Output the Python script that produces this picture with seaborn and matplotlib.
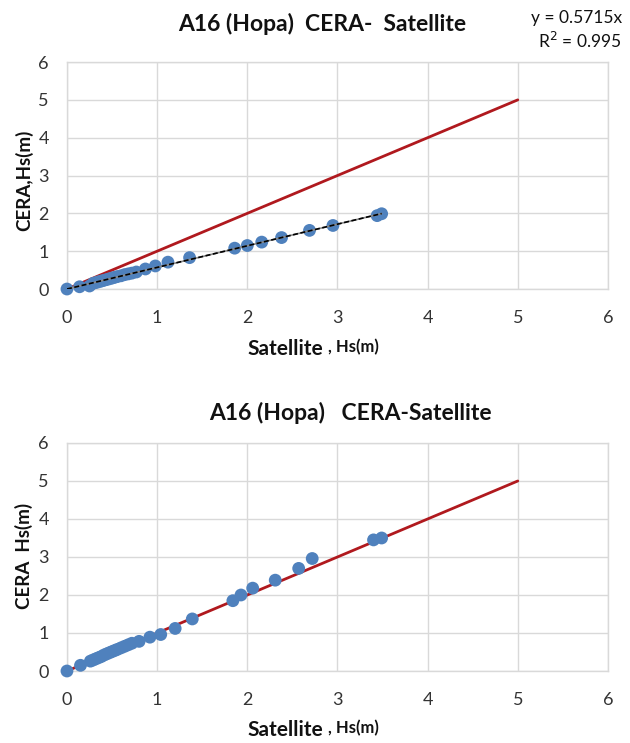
import matplotlib
matplotlib.use("Agg")
import matplotlib.pyplot as plt
import seaborn as sns
import numpy as np
import pandas as pd

# Station A16 (Hopa): significant wave height, CERA hindcast vs satellite
sat_raw = [0.00, 0.14, 0.25, 0.29, 0.32, 0.35, 0.38, 0.41, 0.44, 0.47, 0.50,
           0.53, 0.56, 0.60, 0.64, 0.68, 0.72, 0.77, 0.87, 0.98, 1.12, 1.36,
           1.86, 2.00, 2.16, 2.38, 2.69, 2.95, 3.44, 3.49]
cera_raw = [0.00, 0.06, 0.08, 0.15, 0.17, 0.19, 0.21, 0.23, 0.25, 0.27, 0.29,
            0.31, 0.33, 0.35, 0.38, 0.40, 0.42, 0.45, 0.53, 0.61, 0.71, 0.83,
            1.08, 1.15, 1.24, 1.36, 1.55, 1.68, 1.94, 1.99]

# After correction
sat_corr = [0.00, 0.15, 0.26, 0.29, 0.32, 0.35, 0.38, 0.41, 0.44, 0.47, 0.50,
            0.53, 0.56, 0.60, 0.64, 0.68, 0.72, 0.80, 0.92, 1.04, 1.20, 1.39,
            1.84, 1.93, 2.06, 2.31, 2.57, 2.72, 3.40, 3.49]
cera_corr = [0.00, 0.15, 0.26, 0.29, 0.32, 0.35, 0.38, 0.42, 0.45, 0.48, 0.51,
             0.54, 0.57, 0.61, 0.65, 0.69, 0.73, 0.78, 0.89, 0.96, 1.12, 1.37,
             1.85, 2.00, 2.18, 2.39, 2.70, 2.96, 3.45, 3.50]

fit_slope = 0.5715
fit_r2 = 0.995
ref_line = [0, 5]
ticks = [0, 1, 2, 3, 4, 5, 6]

sns.set_theme(style="whitegrid")
plt.rcParams["font.family"] = ["Lato", "DejaVu Sans"]

BLUE = "#4F81BD"
RED = "#B0191E"
GRID = "#D9D9D9"
TXT = "#333333"
DARK = "#111111"

fig = plt.figure(figsize=(6.3, 7.43), dpi=100)
ax1 = fig.add_axes([0.1063, 0.6110, 0.8587, 0.3055])
ax2 = fig.add_axes([0.1063, 0.0969, 0.8587, 0.3069])


def style(ax):
    ax.set_xlim(0, 6)
    ax.set_ylim(0, 6)
    ax.set_xticks(ticks)
    ax.set_yticks(ticks)
    ax.grid(True, color=GRID, linewidth=1.0)
    ax.tick_params(axis="both", length=0, labelsize=13, labelcolor=TXT)
    ax.tick_params(axis="x", pad=15)
    ax.tick_params(axis="y", pad=13)
    for s in ax.spines.values():
        s.set_color(GRID)
        s.set_linewidth(1.0)
    ax.set_xlabel("")
    ax.set_ylabel("")


# Upper panel: raw comparison
df1 = pd.DataFrame({"sat": sat_raw, "cera": cera_raw})
sns.lineplot(x=ref_line, y=ref_line, ax=ax1, color=RED, linewidth=2.0, zorder=2)
sns.scatterplot(data=df1, x="sat", y="cera", ax=ax1, color=BLUE, s=85,
                edgecolor="none", zorder=3, clip_on=False)
trend_x = np.array([0, max(sat_raw)])
ax1.plot(trend_x, fit_slope * trend_x, color="#888888", linewidth=1.2, zorder=4)
ax1.plot(trend_x, fit_slope * trend_x, color="black", linewidth=1.2,
         linestyle=(0, (3, 1.5)), zorder=5)
style(ax1)

# Lower panel: corrected comparison
df2 = pd.DataFrame({"sat": sat_corr, "cera": cera_corr})
sns.lineplot(x=ref_line, y=ref_line, ax=ax2, color=RED, linewidth=2.0, zorder=2)
sns.scatterplot(data=df2, x="sat", y="cera", ax=ax2, color=BLUE, s=85,
                edgecolor="none", zorder=3, clip_on=False)
style(ax2)

# Titles
fig.text(322 / 630, 1 - 24 / 743, "A16 (Hopa)  CERA-  Satellite", ha="center",
         va="center", fontsize=16.5, fontweight="bold", color=DARK)
fig.text(350 / 630, 1 - 413 / 743, "A16 (Hopa)   CERA-Satellite", ha="center",
         va="center", fontsize=16.5, fontweight="bold", color=DARK)

# Trendline equation
fig.text(622 / 630, 1 - 18 / 743, f"y = {fit_slope}x", ha="right", va="center",
         fontsize=12.5, color=DARK)
fig.text(622 / 630, 1 - 41 / 743, f"R$^2$ = {fit_r2}", ha="right", va="center",
         fontsize=12.5, color=DARK)

# Axis labels
for ybase in (349, 730):
    fig.text(323 / 630, 1 - ybase / 743, "Satellite", ha="right", va="center",
             fontsize=15, fontweight="bold", color=DARK)
    fig.text(328 / 630, 1 - (ybase - 2) / 743, ", Hs(m)", ha="left", va="center",
             fontsize=12, fontweight="bold", color=DARK)

fig.text(24 / 630, 1 - 180 / 743, "CERA,Hs(m)", rotation=90, ha="center",
         va="center", fontsize=13.5, fontweight="bold", color=DARK)
fig.text(24 / 630, 1 - 556 / 743, "CERA  Hs(m)", rotation=90, ha="center",
         va="center", fontsize=13.5, fontweight="bold", color=DARK)

fig.savefig("out.png", dpi=100, facecolor="white")
